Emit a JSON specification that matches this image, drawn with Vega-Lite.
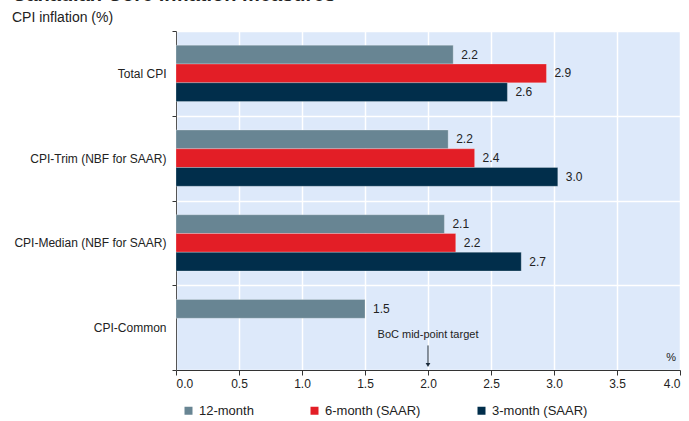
{
  "$schema": "https://vega.github.io/schema/vega-lite/v6.json",
  "width": 504,
  "height": 339,
  "autosize": {"type": "none"},
  "padding": {"left": 176, "top": 31, "right": 9, "bottom": 51},
  "config": {
    "font": "Liberation Sans",
    "view": {"fill": "#dde9fa", "stroke": null},
    "axis": {"labelFont": "Liberation Sans", "labelColor": "#222222", "labelFontSize": 12}
  },
  "title": {
    "text": "Canadian Core inflation measures",
    "subtitle": "CPI inflation (%)",
    "anchor": "start",
    "frame": "group",
    "dx": -164,
    "offset": 0,
    "fontSize": 20,
    "fontWeight": "bold",
    "color": "#222222",
    "subtitleFontSize": 14,
    "subtitleColor": "#222222",
    "subtitlePadding": 6
  },
  "datasets": {
    "bars": [
      {"measure": "Total CPI", "series": "12-month", "value": 2.2},
      {"measure": "Total CPI", "series": "6-month (SAAR)", "value": 2.94},
      {"measure": "Total CPI", "series": "3-month (SAAR)", "value": 2.63},
      {"measure": "CPI-Trim (NBF for SAAR)", "series": "12-month", "value": 2.16},
      {"measure": "CPI-Trim (NBF for SAAR)", "series": "6-month (SAAR)", "value": 2.37},
      {"measure": "CPI-Trim (NBF for SAAR)", "series": "3-month (SAAR)", "value": 3.03},
      {"measure": "CPI-Median (NBF for SAAR)", "series": "12-month", "value": 2.13},
      {"measure": "CPI-Median (NBF for SAAR)", "series": "6-month (SAAR)", "value": 2.22},
      {"measure": "CPI-Median (NBF for SAAR)", "series": "3-month (SAAR)", "value": 2.74},
      {"measure": "CPI-Common", "series": "12-month", "value": 1.5}
    ],
    "notes": [
      {"measure": "CPI-Common", "x": 2.0, "label": "BoC mid-point target"}
    ],
    "unit": [
      {"measure": "CPI-Common", "x": 3.93, "label": "%"}
    ]
  },
  "encoding": {
    "y": {
      "field": "measure",
      "type": "nominal",
      "sort": ["Total CPI", "CPI-Trim (NBF for SAAR)", "CPI-Median (NBF for SAAR)", "CPI-Common"],
      "scale": {"domain": ["Total CPI", "CPI-Trim (NBF for SAAR)", "CPI-Median (NBF for SAAR)", "CPI-Common"], "paddingInner": 0, "paddingOuter": 0},
      "axis": {
        "title": null,
        "tickBand": "extent",
        "grid": true,
        "gridColor": "#ffffff",
        "gridWidth": 1.5,
        "gridOpacity": 1,
        "domainColor": "#555555",
        "tickColor": "#333333",
        "tickSize": 4,
        "labelPadding": 6
      }
    }
  },
  "layer": [
    {
      "data": {"name": "bars"},
      "mark": {"type": "bar", "stroke": "#ffffff", "strokeOpacity": 0.25, "strokeWidth": 1},
      "encoding": {
        "x": {
          "field": "value",
          "type": "quantitative",
          "scale": {"domain": [0, 4], "nice": false},
          "axis": {
            "title": null,
            "values": [0, 0.5, 1, 1.5, 2, 2.5, 3, 3.5, 4],
            "format": ".1f",
            "grid": true,
            "gridColor": "#ffffff",
            "gridWidth": 1.5,
            "gridOpacity": 1,
            "domainColor": "#333333",
            "tickColor": "#333333",
            "tickSize": 5,
            "labelPadding": 3
          }
        },
        "yOffset": {
          "field": "series",
          "type": "nominal",
          "sort": ["12-month", "6-month (SAAR)", "3-month (SAAR)"],
          "scale": {"domain": ["12-month", "6-month (SAAR)", "3-month (SAAR)"], "paddingInner": 0, "paddingOuter": 0.76}
        },
        "color": {
          "field": "series",
          "type": "nominal",
          "sort": ["12-month", "6-month (SAAR)", "3-month (SAAR)"],
          "scale": {"domain": ["12-month", "6-month (SAAR)", "3-month (SAAR)"], "range": ["#688593", "#e31e26", "#012e4b"]},
          "legend": {
            "title": null,
            "orient": "none",
            "direction": "horizontal",
            "legendX": 6,
            "legendY": 373,
            "symbolType": "square",
            "symbolSize": 64,
            "symbolStrokeWidth": 0,
            "labelFontSize": 13,
            "labelColor": "#222222",
            "labelFont": "Liberation Sans",
            "columnPadding": 54,
            "labelOffset": 4
          }
        }
      }
    },
    {
      "data": {"name": "bars"},
      "mark": {"type": "text", "align": "left", "baseline": "middle", "dx": 8, "fontSize": 12, "color": "#222222", "font": "Liberation Sans"},
      "encoding": {
        "x": {"field": "value", "type": "quantitative"},
        "yOffset": {
          "field": "series",
          "type": "nominal",
          "sort": ["12-month", "6-month (SAAR)", "3-month (SAAR)"],
          "scale": {"domain": ["12-month", "6-month (SAAR)", "3-month (SAAR)"], "paddingInner": 0, "paddingOuter": 0.76}
        },
        "text": {"field": "value", "type": "quantitative", "format": ".1f"}
      }
    },
    {
      "data": {"name": "notes"},
      "mark": {"type": "text", "align": "center", "baseline": "middle", "fontSize": 11, "color": "#222222", "font": "Liberation Sans"},
      "encoding": {
        "x": {"field": "x", "type": "quantitative"},
        "y": {"field": "measure", "type": "nominal", "bandPosition": 0.59},
        "text": {"field": "label"}
      }
    },
    {
      "data": {"name": "notes"},
      "mark": {"type": "rule", "color": "#1a2a3a", "strokeWidth": 1},
      "encoding": {
        "x": {"field": "x", "type": "quantitative"},
        "y": {"field": "measure", "type": "nominal", "bandPosition": 0.71},
        "y2": {"datum": "CPI-Common", "bandPosition": 0.93}
      }
    },
    {
      "data": {"name": "notes"},
      "mark": {"type": "point", "shape": "triangle-down", "filled": true, "size": 22, "color": "#1a2a3a", "opacity": 1},
      "encoding": {
        "x": {"field": "x", "type": "quantitative"},
        "y": {"field": "measure", "type": "nominal", "bandPosition": 0.94}
      }
    },
    {
      "data": {"name": "unit"},
      "mark": {"type": "text", "align": "center", "baseline": "middle", "fontSize": 11, "color": "#222222", "font": "Liberation Sans"},
      "encoding": {
        "x": {"field": "x", "type": "quantitative"},
        "y": {"field": "measure", "type": "nominal", "bandPosition": 0.86},
        "text": {"field": "label"}
      }
    }
  ]
}
